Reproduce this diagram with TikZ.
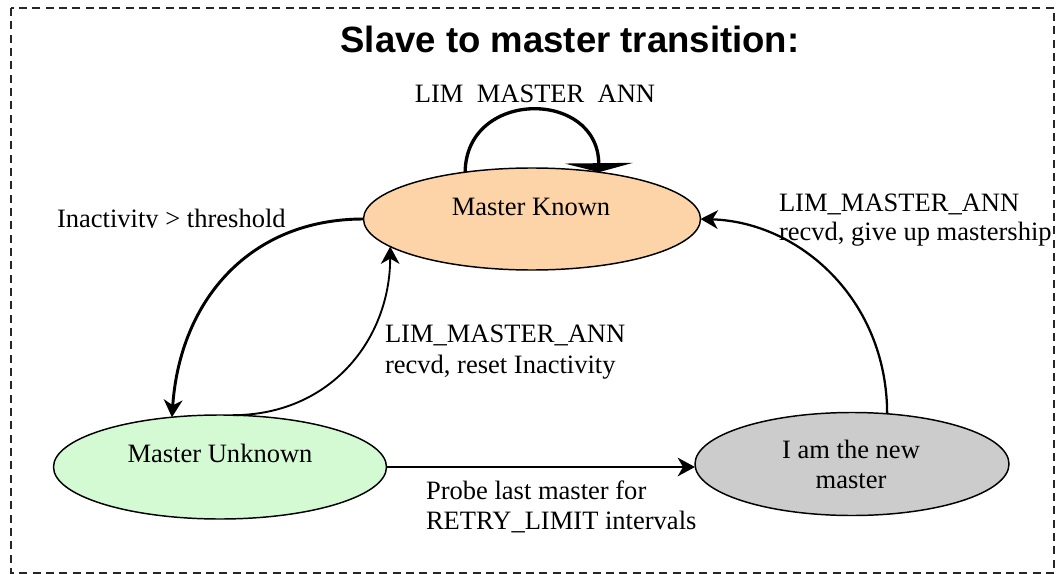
\documentclass[tikz,border=0pt]{standalone}
\usepackage{fontspec}
\setmainfont{Liberation Serif}
\newfontfamily\headfont{Liberation Sans}
\usetikzlibrary{arrows.meta,shapes.geometric}

\definecolor{knownfill}{RGB}{253,211,168}
\definecolor{unknownfill}{RGB}{212,250,212}
\definecolor{newfill}{RGB}{204,204,204}

\begin{document}
\begin{tikzpicture}[x=0.75pt,y=-0.75pt,
  state/.style={ellipse,draw=black,line width=1.1pt,inner sep=0pt,outer sep=0pt},
  lbl/.style={font=\fontsize{19.9pt}{22.5pt}\selectfont,inner sep=0pt,outer sep=0pt},
  tip/.style={-{Stealth[length=13pt,width=14pt,inset=4pt]}},
  frame/.style={line width=1.2pt,dash pattern=on 6pt off 4pt,draw=black!85}]
\useasboundingbox (0,0) rectangle (1060,574);

% dashed frame around the whole state machine
\draw[frame] (11,8) rectangle (1054,573);

% heading
\node[font=\headfont\bfseries\fontsize{27.4pt}{32pt}\selectfont,anchor=base,inner sep=0pt] (title) at (570,52.5) {Slave to master transition:};

% states
\node[state,fill=knownfill,minimum width=252.75pt,minimum height=76.5pt] (mk) at (532,219) {};
\node[state,fill=unknownfill,minimum width=249.75pt,minimum height=78pt] (mu) at (220,467) {};
\node[state,fill=newfill,minimum width=235.5pt,minimum height=77.25pt] (nm) at (852,464) {};

\node[lbl,anchor=base] (mkText) at (531,215.5) {Master Known};
\node[lbl,anchor=base] (muText) at (220,462) {Master Unknown};
\node[lbl,anchor=base] (nmTextA) at (851,458.5) {I am the new};
\node[lbl,anchor=base] (nmTextB) at (851,488.5) {master};

% self loop on the known state (label cut at its baseline)
\begin{scope}
  \clip (0,0) rectangle (1060,103.5);
  \node[lbl,anchor=base] (loopLbl) at (535,102.5) {LIM\_MASTER\_ANN};
\end{scope}
\draw[line width=2.5pt,-{Triangle[length=6.75pt,width=51pt]}]
  (mk.145) .. controls (466,89) and (598,89) .. (mk.35);

% known -> unknown
\begin{scope}
  \clip (0,0) rectangle (1060,227.5);
  \node[lbl,anchor=base west] (inactLbl) at (57,227) {Inactivity > threshold};
\end{scope}
\draw[tip,line width=2.2pt] (mk.west) .. controls (250,219) and (180,300) .. (mu.134);

% unknown -> known
\draw[tip,line width=1.4pt] (mu.76) .. controls (330,415) and (390,340) .. (mk.191);
\node[lbl,anchor=base west] (resetA) at (385,342.5) {LIM\_MASTER\_ANN};
\node[lbl,anchor=base west] (resetB) at (385,373.5) {recvd, reset Inactivity};

% new master -> known
\draw[tip,line width=1.7pt] (nm.55) .. controls (887,300) and (800,222) .. (mk.east);
\node[lbl,anchor=base west] (giveA) at (779,211.5) {LIM\_MASTER\_ANN};
\node[lbl,anchor=base west] (giveB) at (779,240.5) {recvd, give up mastership};

% unknown -> new master
\draw[tip,line width=1.5pt] (mu.east) -- (mu.east -| nm.west);
\node[lbl,anchor=base west] (probeA) at (426,499.5) {Probe last master for};
\node[lbl,anchor=base west] (probeB) at (426,529) {RETRY\_LIMIT intervals};
\end{tikzpicture}
\end{document}
